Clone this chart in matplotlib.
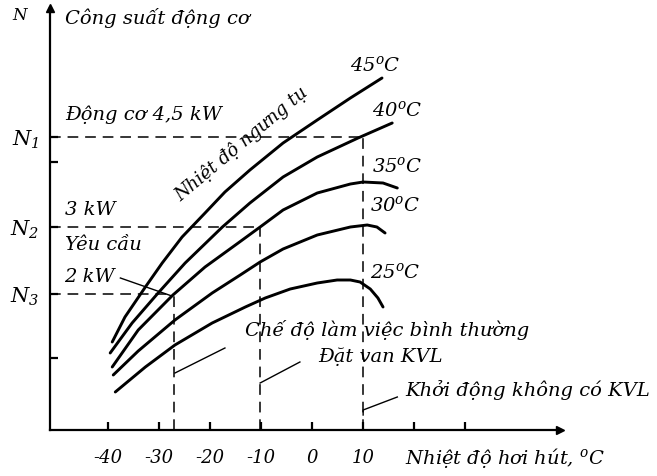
import numpy as np
import matplotlib
matplotlib.use("Agg")
import matplotlib.pyplot as plt

plt.rcParams['font.family'] = ['DejaVu Serif']
plt.rcParams['font.style'] = 'italic'
plt.rcParams['mathtext.fontset'] = 'dejavuserif'

# suction temperature (degC) vs. motor power (relative units)
x45 = [-39.2, -36.7, -32.7, -29.4, -25.5, -21.0, -17.1, -12.2, -5.7, 1.0, 7.5, 13.7]
y45 = [8.8, 11.3, 14.3, 16.7, 19.3, 21.7, 23.8, 26.0, 28.7, 31.0, 33.2, 35.2]

x40 = [-39.6, -35.3, -30.2, -24.9, -17.6, -12.2, -5.7, 1.0, 9.0, 15.7]
y40 = [7.7, 10.7, 13.7, 16.7, 20.3, 22.7, 25.3, 27.3, 29.2, 30.7]

x35 = [-39.2, -34.1, -27.3, -21.0, -14.5, -10.2, -5.7, 1.0, 7.5, 10.0, 13.9, 16.7]
y35 = [6.3, 10.0, 13.5, 16.3, 18.7, 20.3, 22.0, 23.7, 24.6, 24.8, 24.7, 24.2]

x30 = [-39.0, -34.1, -26.9, -19.6, -14.1, -10.2, -5.7, 1.0, 7.5, 10.8, 12.7, 14.3]
y30 = [5.5, 7.9, 11.0, 13.7, 15.5, 16.8, 18.1, 19.5, 20.3, 20.5, 20.3, 19.7]

x25 = [-38.6, -32.7, -26.9, -19.6, -13.1, -9.2, -4.3, 1.0, 4.9, 7.5, 9.4, 11.4, 12.9, 13.9]
y25 = [3.8, 6.3, 8.5, 10.7, 12.3, 13.2, 14.1, 14.7, 15.0, 15.0, 14.8, 14.1, 13.2, 12.3]

curve_labels = ['45$^{o}$C', '40$^{o}$C', '35$^{o}$C', '30$^{o}$C', '25$^{o}$C']
label_pos = [(7.5, 36.5), (11.8, 32.0), (11.8, 26.4), (11.4, 22.5), (11.4, 15.8)]

N1, N2, N3 = 29.3, 20.3, 13.6
t1, t2, t3 = 10.0, -10.2, -27.0

xticks = [-40, -30, -20, -10, 0, 10, 20, 30]
xtick_labels = ['-40', '-30', '-20', '-10', '0', '10', '', '']
yticks = [7.2, N3, N2, 26.8, N1]
ytick_labels = ['', '$N_3$', '$N_2$', '', '$N_1$']

fig = plt.figure(figsize=(6.57, 4.76), dpi=100)
ax = fig.add_axes([50 / 657, 46 / 476, 510 / 657, 422 / 476])
ax.set_xlim(-51.4, 48.6)
ax.set_ylim(0, 42.2)

for s in ('top', 'right'):
    ax.spines[s].set_visible(False)
for s in ('left', 'bottom'):
    ax.spines[s].set_linewidth(1.6)
ax.plot(1, 0, '>k', ms=6, transform=ax.transAxes, clip_on=False)
ax.plot(0, 1, '^k', ms=6, transform=ax.transAxes, clip_on=False)

ax.set_xticks(xticks)
ax.set_xticklabels(xtick_labels, fontsize=13)
ax.set_yticks(yticks)
ax.set_yticklabels(ytick_labels, fontsize=15)
ax.tick_params(axis='x', direction='in', length=6, width=1.6, pad=14)
ax.tick_params(axis='y', direction='in', length=6, width=1.6, pad=8)

for xs, ys in ((x45, y45), (x40, y40), (x35, y35), (x30, y30), (x25, y25)):
    ax.plot(xs, ys, color='black', lw=2.1, solid_capstyle='round', solid_joinstyle='round')

for lab, (lx, ly) in zip(curve_labels, label_pos):
    ax.text(lx, ly, lab, fontsize=14, ha='left', va='center')

dash = dict(color='black', lw=1.1, ls=(0, (7, 4.5)))
ax.plot([-51.4, t1], [N1, N1], **dash)
ax.plot([-51.4, t2], [N2, N2], **dash)
ax.plot([-51.4, t3], [N3, N3], **dash)
ax.plot([t1, t1], [0, N1], **dash)
ax.plot([t2, t2], [0, N2], **dash)
ax.plot([t3, t3], [0, N3], **dash)

ax.text(-57.3, 41.5, 'N', fontsize=12, ha='center', va='center', clip_on=False)
ax.text(-48.4, 41.2, 'Công suất động cơ', fontsize=14, va='center')
ax.text(-48.4, 31.5, 'Động cơ 4,5 kW', fontsize=14, va='center')
ax.text(-48.4, 22.0, '3 kW', fontsize=14, va='center')
ax.text(-48.4, 18.5, 'Yêu cầu', fontsize=14, va='center')
ax.text(-48.6, 15.3, '2 kW', fontsize=14, va='center')
ax.plot([-37.6, -27.5], [15.2, 13.4], color='black', lw=1.0)
ax.text(-13.9, 28.6, 'Nhiệt độ ngưng tụ', fontsize=13, rotation=40,
        ha='center', va='center', rotation_mode='anchor')

ax.text(-13.1, 10.0, 'Chế độ làm việc bình thường', fontsize=14, va='center')
ax.text(1.2, 7.3, 'Đặt van KVL', fontsize=14, va='center')
ax.text(18.2, 4.0, 'Khởi động không có KVL', fontsize=14, va='center')
ax.plot([-26.9, -17.1], [5.7, 8.2], color='black', lw=1.0)
ax.plot([-10.2, -2.4], [4.7, 6.8], color='black', lw=1.0)
ax.plot([10.0, 10.0, 16.7], [1.5, 2.0, 3.3], color='black', lw=1.0)

ax.text(18.2, -2.8, 'Nhiệt độ hơi hút, $^{o}$C', fontsize=14, va='center')

fig.savefig('out.png', dpi=100)
